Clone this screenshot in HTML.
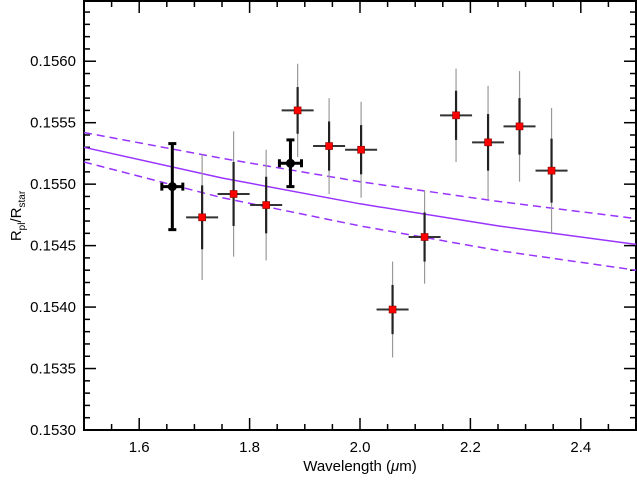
<!DOCTYPE html>
<html><head><meta charset="utf-8"><style>
html,body{margin:0;padding:0;background:#fff;}
svg text{font-family:"Liberation Sans",Arial,sans-serif;fill:#000;}
</style></head><body>
<svg id="chart" width="637" height="475" viewBox="0 0 637 475" xmlns="http://www.w3.org/2000/svg">
<g id="axes"></g>
<g id="models"></g>
<g id="points"></g>
<text x="360" y="471" text-anchor="middle" font-size="15">Wavelength (<tspan font-style="italic">μ</tspan>m)</text>
<text transform="translate(21,216) rotate(-90)" text-anchor="middle" font-size="15">R<tspan font-size="10" dy="4">pl</tspan><tspan dy="-4">/R</tspan><tspan font-size="10" dy="4">star</tspan></text>
</svg>
<script>
const redWl = [1.714,1.771,1.830,1.887,1.944,2.002,2.059,2.117,2.174,2.232,2.289,2.347];
const redVal = [0.15473,0.15492,0.15483,0.15560,0.15531,0.15528,0.15398,0.15457,0.15556,0.15534,0.15547,0.15511];
const redErrIn = [0.00026,0.00026,0.00023,0.00019,0.00020,0.00020,0.00020,0.00020,0.00020,0.00023,0.00023,0.00026];
const redErrOut = [0.00051,0.00051,0.00045,0.00038,0.00039,0.00039,0.00039,0.00038,0.00038,0.00046,0.00045,0.00051];
const redWlErr = 0.029;
const blackWl = [1.660,1.874];
const blackVal = [0.15498,0.15517];
const blackErr = [0.00035,0.00019];
const blackWlErr = [0.019,0.020];
const modelWl = [1.5,1.75,2.0,2.25,2.5];
const modelMid = [0.15530,0.15505,0.15484,0.15466,0.15451];
const modelUp = [0.15542,0.15521,0.15502,0.15486,0.15472];
const modelLo = [0.15518,0.15489,0.15466,0.15446,0.15430];
const xTicks = [1.6,1.8,2.0,2.2,2.4];
const xTickLabels = ["1.6","1.8","2.0","2.2","2.4"];
const yTicks = [0.1530,0.1535,0.1540,0.1545,0.1550,0.1555,0.1560];
const yTickLabels = ["0.1530","0.1535","0.1540","0.1545","0.1550","0.1555","0.1560"];

const L=84,R=636,T=1,B=430;
const X0=1.5,X1=2.5,Y0=0.1530,Y1=0.15649;
const xs=v=>L+(v-X0)/(X1-X0)*(R-L);
const ys=v=>B-(v-Y0)/(Y1-Y0)*(B-T);
const NS='http://www.w3.org/2000/svg';
function mk(tag,attrs,parent){const e=document.createElementNS(NS,tag);for(const k in attrs)e.setAttribute(k,attrs[k]);parent.appendChild(e);return e;}
const axes=document.getElementById('axes');
const frame=mk('rect',{x:L,y:T,width:R-L,height:B-T,fill:'none',stroke:'#000','stroke-width':2},axes);


for(let i=0;i<=20;i++){const v=X0+i*0.05;const x=xs(v);const major=i%4===2;const len=major?12:6;
 const t1=mk('line',{x1:x,x2:x,y1:B,y2:B-len,stroke:'#000','stroke-width':1.5},axes);
 
 
 const t2=mk('line',{x1:x,x2:x,y1:T,y2:T+len,stroke:'#000','stroke-width':1.5},axes);
 
 }
xTicks.forEach((v,i)=>{const t=mk('text',{x:xs(v),y:452,'text-anchor':'middle','font-size':15},axes);t.textContent=xTickLabels[i];
 
 });
for(let i=0;i<=34;i++){const v=Y0+i*0.0001;const y=ys(v);const major=i%5===0;const len=major?12:6;
 const t1=mk('line',{x1:L,x2:L+len,y1:y,y2:y,stroke:'#000','stroke-width':1.5},axes);
 
 
 const t2=mk('line',{x1:R,x2:R-len,y1:y,y2:y,stroke:'#000','stroke-width':1.5},axes);
 
 }
yTicks.forEach((v,i)=>{const t=mk('text',{x:76,y:ys(v)+5,'text-anchor':'end','font-size':15},axes);t.textContent=yTickLabels[i];
 
 });
const models=document.getElementById('models');
function path(arr){return modelWl.map((w,i)=>(i?'L':'M')+xs(w).toFixed(1)+' '+ys(arr[i]).toFixed(1)).join(' ');}
const pm=mk('path',{d:path(modelMid),fill:'none',stroke:'#9933ff','stroke-width':1.5},models);


const pu=mk('path',{d:path(modelUp),fill:'none',stroke:'#9933ff','stroke-width':1.5,'stroke-dasharray':'8 5'},models);


const pl=mk('path',{d:path(modelLo),fill:'none',stroke:'#9933ff','stroke-width':1.5,'stroke-dasharray':'8 5'},models);


const pts=document.getElementById('points');
redWl.forEach((w,i)=>{const g=mk('g',{},pts);
 
 
 const x=xs(w),y=ys(redVal[i]);
 mk('line',{x1:x,x2:x,y1:ys(redVal[i]+redErrOut[i]),y2:ys(redVal[i]-redErrOut[i]),stroke:'#999','stroke-width':1.2},g);
 mk('line',{x1:x,x2:x,y1:ys(redVal[i]+redErrIn[i]),y2:ys(redVal[i]-redErrIn[i]),stroke:'#222','stroke-width':2.2},g);
 mk('line',{x1:xs(w-redWlErr),x2:xs(w+redWlErr),y1:y,y2:y,stroke:'#333','stroke-width':2},g);
 mk('rect',{x:x-3.5,y:y-3.5,width:7,height:7,fill:'#ff0000',stroke:'#800','stroke-width':0.6},g);});
blackWl.forEach((w,i)=>{const g=mk('g',{},pts);
 
 
 const x=xs(w),y=ys(blackVal[i]);const y1=ys(blackVal[i]+blackErr[i]),y2=ys(blackVal[i]-blackErr[i]);
 const xa=xs(w-blackWlErr[i]),xb=xs(w+blackWlErr[i]);
 mk('line',{x1:x,x2:x,y1:y1,y2:y2,stroke:'#000','stroke-width':3},g);
 mk('line',{x1:x-4,x2:x+4,y1:y1,y2:y1,stroke:'#000','stroke-width':3},g);
 mk('line',{x1:x-4,x2:x+4,y1:y2,y2:y2,stroke:'#000','stroke-width':3},g);
 mk('line',{x1:xa,x2:xb,y1:y,y2:y,stroke:'#000','stroke-width':3},g);
 mk('line',{x1:xa,x2:xa,y1:y-4,y2:y+4,stroke:'#000','stroke-width':3},g);
 mk('line',{x1:xb,x2:xb,y1:y-4,y2:y+4,stroke:'#000','stroke-width':3},g);
 mk('circle',{cx:x,cy:y,r:4.5,fill:'#000'},g);});
</script>
</body></html>
